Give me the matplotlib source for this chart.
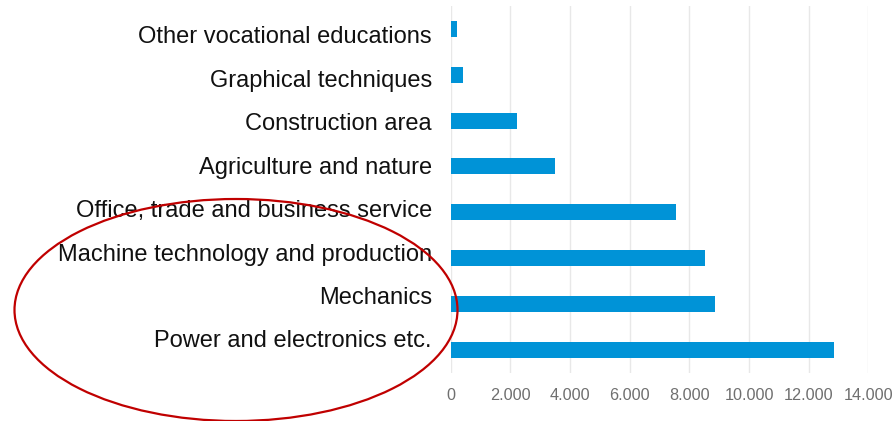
import matplotlib.pyplot as plt
from matplotlib.patches import Ellipse
from matplotlib.ticker import FuncFormatter
from matplotlib.transforms import ScaledTranslation

# categories, top to bottom as shown
categories = [
    "Other vocational educations",
    "Graphical techniques",
    "Construction area",
    "Agriculture and nature",
    "Office, trade and business service",
    "Machine technology and production",
    "Mechanics",
    "Power and electronics etc.",
]
values = [220, 420, 2210, 3480, 7550, 8520, 8850, 12860]
x_ticks = [0, 2000, 4000, 6000, 8000, 10000, 12000, 14000]

plt.rcParams['font.family'] = ['Liberation Sans', 'DejaVu Sans']

fig = plt.figure(figsize=(8.95, 4.21), dpi=100)
ax = fig.add_axes([0.5036, 0.115, 0.4666, 0.8707])

ypos = list(range(len(categories)))
ax.barh(ypos, values, height=0.35, color="#0093d7", zorder=3)

ax.set_ylim(len(categories) - 0.5, -0.5)
ax.set_yticks(ypos)
ax.set_yticklabels(categories, fontsize=17, color="#111111")
ax.set_xlim(0, 14000)
ax.set_xticks(x_ticks)
ax.xaxis.set_major_formatter(FuncFormatter(lambda v, p: f"{int(v):,}".replace(",", ".")))
ax.tick_params(axis="x", length=0, labelsize=11.7, labelcolor="#6f6f6f", pad=11)
ax.tick_params(axis="y", length=0, pad=13.5)
ax.grid(axis="x", color="#e8e8e8", linewidth=1, zorder=0)
for s in ax.spines.values():
    s.set_visible(False)

# labels in the source sit on a slightly tighter spacing than the bars
for i, lab in enumerate(ax.get_yticklabels()):
    dy = (6 - 2.4 * i) / 100.0
    lab.set_transform(lab.get_transform() + ScaledTranslation(0, -dy, fig.dpi_scale_trans))

# red hand-drawn style circle overlay
over = fig.add_axes([0, 0, 1, 1], facecolor="none")
over.set_xlim(0, 895)
over.set_ylim(421, 0)
over.axis("off")
over.add_patch(Ellipse((236, 310), 443, 222, fill=False, edgecolor="#c00000", linewidth=1.6))

fig.savefig("out.png", dpi=100)
